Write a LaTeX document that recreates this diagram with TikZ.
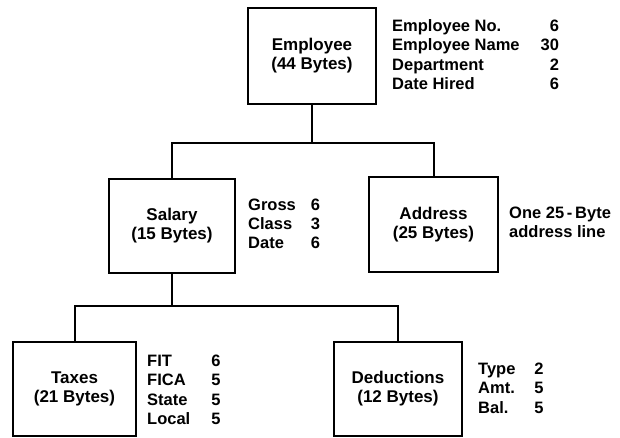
\documentclass[tikz,border=0pt]{standalone}
\usepackage{fontspec}
\setmainfont{Liberation Sans}
\begin{document}
\begin{tikzpicture}[x=1pt,y=-1pt,
  record/.style={draw, line width=2pt, inner sep=0pt, align=center,
    font=\fontsize{17}{19}\selectfont\bfseries},
  fields/.style={anchor=west, inner sep=0pt,
    font=\fontsize{16.5}{19.3}\selectfont\bfseries},
  link/.style={line width=2pt}]
\useasboundingbox (0,0) rectangle (620,438);

% record boxes
\node[record, minimum width=128pt, minimum height=96pt] (emp) at (312,56) {Employee\\(44 Bytes)};
\node[record, minimum width=126pt, minimum height=94pt] (sal) at (172,226) {Salary\\(15 Bytes)};
\node[record, minimum width=129pt, minimum height=95pt] (addr) at (433.5,224.5) {Address\\(25 Bytes)};
\node[record, minimum width=123pt, minimum height=94pt] (tax) at (74.5,389) {Taxes\\(21 Bytes)};
\node[record, minimum width=128pt, minimum height=94pt] (ded) at (398,389) {Deductions\\(12 Bytes)};

% field lists
\node[fields] (empf) at (392,56.5) {\begin{tabular}{@{}l@{\hspace{21pt}}r@{}}
Employee No. & 6\\ Employee Name & 30\\ Department & 2\\ Date Hired & 6\end{tabular}};
\node[fields] (salf) at (248,225.5) {\begin{tabular}{@{}l@{\hspace{15pt}}r@{}}
Gross & 6\\ Class & 3\\ Date & 6\end{tabular}};
\node[fields] (addrf) at (509,224) {\begin{tabular}{@{}l@{}}
One 25\,-\,Byte\\ address line\end{tabular}};
\node[fields] (taxf) at (147,391.5) {\begin{tabular}{@{}l@{\hspace{21pt}}r@{}}
FIT & 6\\ FICA & 5\\ State & 5\\ Local & 5\end{tabular}};
\node[fields] (dedf) at (478,390) {\begin{tabular}{@{}l@{\hspace{19pt}}r@{}}
Type & 2\\ Amt. & 5\\ Bal. & 5\end{tabular}};

% hierarchy connectors
\coordinate (bus1) at (0,143);
\coordinate (bus2) at (0,306);
\draw[link] (emp.south) -- (emp.south |- bus1);
\draw[link] (sal.north) |- (bus1 -| addr.north) -- (addr.north);
\draw[link] (sal.south) -- (sal.south |- bus2);
\draw[link] (tax.north) |- (bus2 -| ded.north) -- (ded.north);
\end{tikzpicture}
\end{document}
